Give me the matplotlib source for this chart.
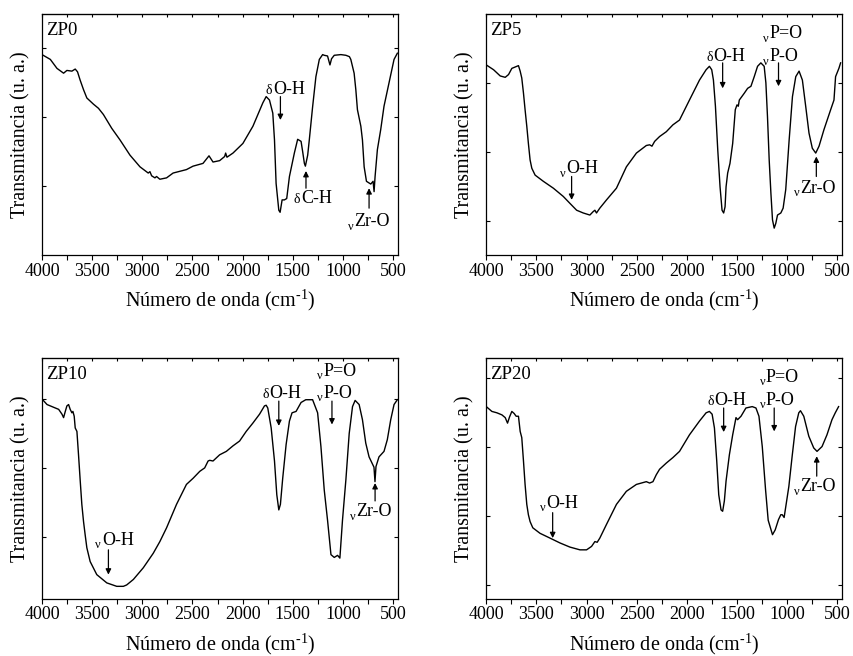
import numpy as np
import matplotlib.pyplot as plt
import matplotlib.transforms as mtransforms

plt.rcParams['font.family'] = ['Liberation Serif', 'DejaVu Serif']
plt.rcParams['mathtext.fontset'] = 'custom'
plt.rcParams['mathtext.rm'] = 'Liberation Serif'
plt.rcParams['mathtext.it'] = 'Liberation Serif:italic'

# FTIR spectra (wavenumber in cm-1, transmittance in arbitrary units)
wn_zp0 = [4000, 3917, 3851, 3785, 3752, 3702, 3669, 3646, 3620, 3586, 3553, 3487, 3437,
          3388, 3305, 3222, 3123, 3023, 2941, 2924, 2907, 2874, 2858, 2825, 2758, 2693,
          2560, 2494, 2395, 2335, 2295, 2229, 2179, 2169, 2156, 2096, 1997, 1897, 1798,
          1765, 1732, 1699, 1682, 1666, 1639, 1626, 1606, 1583, 1560, 1533, 1484, 1451,
          1417, 1401, 1384, 1374, 1351, 1335, 1302, 1269, 1235, 1202, 1186, 1153, 1129,
          1113, 1086, 1020, 970, 935, 921, 888, 871, 855, 821, 805, 788, 765, 722, 699,
          689, 679, 656, 623, 590, 540, 490, 457]
t_zp0 = [2.91, 2.84, 2.71, 2.64, 2.68, 2.67, 2.70, 2.66, 2.54, 2.40, 2.28, 2.19, 2.13,
         2.04, 1.84, 1.67, 1.45, 1.28, 1.19, 1.21, 1.15, 1.12, 1.14, 1.10, 1.12, 1.19,
         1.24, 1.29, 1.33, 1.44, 1.35, 1.37, 1.43, 1.48, 1.42, 1.48, 1.62, 1.87, 2.21,
         2.30, 2.25, 2.06, 1.67, 1.04, 0.65, 0.62, 0.80, 0.80, 0.82, 1.14, 1.48, 1.68,
         1.65, 1.50, 1.33, 1.29, 1.45, 1.67, 2.15, 2.59, 2.84, 2.91, 2.90, 2.89, 2.76,
         2.85, 2.90, 2.91, 2.90, 2.88, 2.84, 2.64, 2.40, 2.11, 1.87, 1.67, 1.28, 1.07,
         1.03, 1.07, 0.92, 1.14, 1.53, 1.82, 2.16, 2.50, 2.84, 2.93]

wn_zp5 = [4000, 3927, 3861, 3811, 3778, 3745, 3695, 3679, 3662, 3646, 3629, 3613, 3596,
          3580, 3563, 3546, 3513, 3431, 3331, 3232, 3166, 3099, 3033, 2967, 2934, 2917,
          2901, 2868, 2801, 2702, 2603, 2503, 2404, 2371, 2348, 2321, 2272, 2205, 2172,
          2139, 2073, 1974, 1874, 1808, 1775, 1752, 1735, 1715, 1692, 1669, 1649, 1633,
          1619, 1609, 1593, 1570, 1543, 1517, 1500, 1487, 1477, 1427, 1394, 1361, 1328,
          1295, 1262, 1229, 1212, 1196, 1179, 1162, 1146, 1129, 1113, 1096, 1063, 1040,
          1014, 980, 947, 914, 881, 848, 815, 782, 749, 715, 682, 633, 566, 533, 517,
          484, 467]
t_zp5 = [2.76, 2.69, 2.60, 2.58, 2.62, 2.71, 2.74, 2.75, 2.67, 2.57, 2.35, 2.11, 1.87,
         1.62, 1.38, 1.26, 1.16, 1.07, 0.97, 0.85, 0.75, 0.65, 0.61, 0.58, 0.63, 0.65,
         0.61, 0.68, 0.80, 0.97, 1.28, 1.48, 1.59, 1.60, 1.58, 1.65, 1.72, 1.79, 1.84,
         1.89, 1.96, 2.25, 2.54, 2.69, 2.74, 2.69, 2.54, 2.16, 1.53, 0.99, 0.65, 0.61,
         0.70, 0.99, 1.19, 1.33, 1.62, 2.11, 2.18, 2.16, 2.25, 2.35, 2.42, 2.45, 2.59,
         2.74, 2.79, 2.74, 2.50, 2.01, 1.38, 0.90, 0.51, 0.39, 0.46, 0.58, 0.61, 0.68,
         0.95, 1.67, 2.30, 2.59, 2.67, 2.54, 2.16, 1.77, 1.55, 1.48, 1.58, 1.82, 2.11,
         2.25, 2.59, 2.71, 2.79]

wn_zp10 = [4000, 3950, 3884, 3834, 3801, 3785, 3768, 3752, 3735, 3719, 3702, 3692, 3679,
           3669, 3652, 3636, 3619, 3603, 3586, 3570, 3553, 3520, 3454, 3354, 3255, 3189,
           3156, 3089, 2990, 2924, 2891, 2825, 2758, 2659, 2560, 2493, 2427, 2378, 2344,
           2328, 2295, 2229, 2162, 2096, 2030, 1964, 1898, 1831, 1782, 1765, 1749, 1715,
           1682, 1659, 1639, 1623, 1600, 1566, 1533, 1507, 1467, 1417, 1370, 1302, 1252,
           1219, 1186, 1153, 1119, 1086, 1053, 1030, 1004, 970, 937, 904, 878, 838, 805,
           772, 739, 690, 680, 670, 640, 590, 557, 523, 490, 457]
t_zp10 = [2.90, 2.82, 2.78, 2.75, 2.68, 2.63, 2.72, 2.80, 2.82, 2.75, 2.70, 2.72, 2.65,
          2.48, 2.43, 2.09, 1.71, 1.37, 1.12, 0.93, 0.74, 0.54, 0.35, 0.23, 0.18, 0.18,
          0.20, 0.28, 0.45, 0.59, 0.66, 0.83, 1.03, 1.37, 1.66, 1.75, 1.85, 1.90, 2.00,
          2.01, 2.00, 2.09, 2.14, 2.22, 2.29, 2.43, 2.55, 2.68, 2.80, 2.81, 2.77, 2.48,
          2.00, 1.51, 1.29, 1.37, 1.75, 2.24, 2.58, 2.70, 2.72, 2.85, 2.89, 2.89, 2.70,
          2.21, 1.58, 1.14, 0.64, 0.60, 0.63, 0.59, 1.14, 1.73, 2.40, 2.79, 2.88, 2.82,
          2.60, 2.26, 2.06, 1.91, 1.70, 1.92, 2.06, 2.14, 2.31, 2.60, 2.82, 2.89]

wn_zp20 = [4000, 3944, 3894, 3844, 3811, 3788, 3768, 3745, 3722, 3702, 3679, 3662, 3646,
           3629, 3613, 3596, 3580, 3563, 3536, 3464, 3364, 3265, 3166, 3066, 3000, 2950,
           2917, 2894, 2868, 2801, 2702, 2603, 2503, 2404, 2371, 2338, 2305, 2272, 2205,
           2139, 2073, 1974, 1874, 1808, 1775, 1748, 1725, 1702, 1682, 1659, 1643, 1626,
           1609, 1576, 1543, 1510, 1494, 1460, 1411, 1348, 1311, 1281, 1248, 1215, 1189,
           1146, 1119, 1086, 1063, 1049, 1030, 983, 950, 916, 884, 867, 834, 784, 735,
           702, 652, 603, 553, 520, 487]
t_zp20 = [2.79, 2.72, 2.70, 2.67, 2.63, 2.55, 2.64, 2.72, 2.69, 2.65, 2.65, 2.43, 2.34,
          2.00, 1.66, 1.37, 1.22, 1.12, 1.03, 0.95, 0.88, 0.81, 0.75, 0.71, 0.71, 0.76,
          0.83, 0.82, 0.88, 1.08, 1.37, 1.56, 1.66, 1.70, 1.68, 1.70, 1.80, 1.88, 1.97,
          2.05, 2.14, 2.38, 2.58, 2.70, 2.72, 2.68, 2.48, 2.00, 1.51, 1.29, 1.27, 1.42,
          1.71, 2.09, 2.38, 2.63, 2.60, 2.65, 2.77, 2.79, 2.77, 2.65, 2.21, 1.58, 1.14,
          0.93, 1.00, 1.15, 1.22, 1.22, 1.18, 1.63, 2.07, 2.50, 2.70, 2.73, 2.65, 2.36,
          2.19, 2.14, 2.21, 2.38, 2.60, 2.70, 2.79]

names = ['ZP0', 'ZP5', 'ZP10', 'ZP20']
yticks = [[1, 2, 3], [0.5, 1.5, 2.5], [0.9, 1.9, 2.9], [0.2, 1.2, 2.2, 3.2]]

# band labels: (greek, text, x, y) -> x = left edge of latin text, y = baseline
labels = [
    [('δ', 'O-H', 1699, 2.34), ('δ', 'C-H', 1417, 0.76), ('ν', 'Zr-O', 888, 0.42)],
    [('ν', 'O-H', 3205, 1.19), ('δ', 'O-H', 1735, 2.81), ('ν', 'P=O', 1179, 3.15),
     ('ν', 'P-O', 1179, 2.81), ('ν', 'Zr-O', 865, 0.90)],
    [('ν', 'O-H', 3404, 0.78), ('δ', 'O-H', 1732, 2.92), ('ν', 'P=O', 1196, 3.24),
     ('ν', 'P-O', 1196, 2.92), ('ν', 'Zr-O', 871, 1.20)],
    [('ν', 'O-H', 3404, 1.32), ('δ', 'O-H', 1725, 2.82), ('ν', 'P=O', 1212, 3.15),
     ('ν', 'P-O', 1212, 2.82), ('ν', 'Zr-O', 865, 1.56)],
]
# arrows: (x, y_start, y_end)
arrows = [
    [(1623, 2.30, 1.96), (1368, 0.97, 1.22), (739, 0.68, 0.97)],
    [(3149, 1.14, 0.80), (1643, 2.79, 2.42), (1086, 2.79, 2.45), (709, 1.14, 1.43)],
    [(3338, 0.71, 0.35), (1639, 2.87, 2.51), (1109, 2.87, 2.53), (679, 1.42, 1.68)],
    [(3338, 1.25, 0.88), (1633, 2.77, 2.42), (1129, 2.77, 2.43), (705, 1.78, 2.07)],
]

spectra = [(wn_zp0, t_zp0), (wn_zp5, t_zp5), (wn_zp10, t_zp10), (wn_zp20, t_zp20)]

fig = plt.figure(figsize=(8.54, 6.56), dpi=100)
rects = [[0.0492, 0.6113, 0.4169, 0.3674], [0.5694, 0.6113, 0.4169, 0.3674],
         [0.0492, 0.0873, 0.4169, 0.3674], [0.5694, 0.0873, 0.4169, 0.3674]]

for i in range(4):
    ax = fig.add_axes(rects[i])
    wn, t = spectra[i]
    ax.plot(wn, t, color='black', lw=1.0)
    ax.set_xlim(4000, 450)
    ax.set_ylim(0, 3.5)
    ax.set_xticks([4000, 3500, 3000, 2500, 2000, 1500, 1000, 500])
    ax.set_xticks(np.arange(3750, 450, -500), minor=True)
    ax.set_yticks(yticks[i])
    ax.set_yticklabels([])
    ax.tick_params(axis='x', which='both', direction='out', length=3.5, width=0.8,
                   labelsize=13, pad=2)
    ax.tick_params(axis='y', direction='in', length=3, width=0.8, right=True)
    top = ax.secondary_xaxis('top')
    top.set_xticks(np.arange(4000, 450, -250))
    top.tick_params(direction='in', length=2.5, width=0.8, labeltop=False)
    for s in ax.spines.values():
        s.set_linewidth(0.9)
    ax.set_xlabel(r'Número de onda (cm$^{\text{-}1}$)', fontsize=14.5, labelpad=6)
    ax.set_ylabel('Transmitancia (u. a.)', fontsize=14.5, labelpad=5)
    ax.text(0.012, 0.93, names[i], transform=ax.transAxes, fontsize=13.5,
            ha='left', va='center')

    for g, txt, x, y in labels[i]:
        ax.text(x, y, txt, fontsize=13, ha='left', va='baseline')
        dy = -2.5 if g == 'ν' else 0
        off = mtransforms.offset_copy(ax.transData, fig=fig, x=-0.5, y=dy, units='points')
        ax.text(x, y, g, fontsize=9 if g == 'ν' else 10, ha='right', va='baseline',
                transform=off)
    for x, y0, y1 in arrows[i]:
        ax.annotate('', xy=(x, y1), xytext=(x, y0),
                    arrowprops=dict(arrowstyle='-|>', color='black', lw=0.9,
                                    mutation_scale=8, shrinkA=0, shrinkB=0))

fig.savefig('out.png', dpi=100)
